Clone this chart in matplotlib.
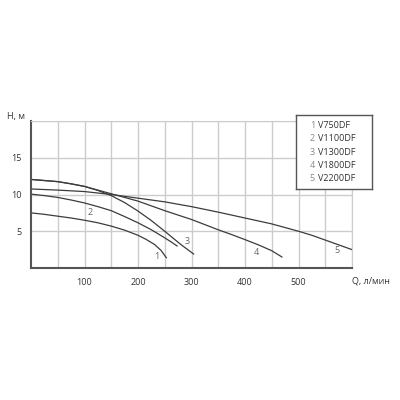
import matplotlib.pyplot as plt

plt.rcParams['font.family'] = ['Open Sans', 'DejaVu Sans']

# расход Q, л/мин и напор H, м для каждой модели
q1 = [0, 25, 50, 75, 100, 125, 150, 175, 200, 215, 231, 243, 253]
h1 = [7.5, 7.3, 7.05, 6.8, 6.5, 6.15, 5.7, 5.15, 4.45, 3.9, 3.2, 2.4, 1.4]

q2 = [0, 25, 50, 75, 100, 125, 150, 175, 200, 225, 250, 262, 273]
h2 = [10.05, 9.85, 9.6, 9.25, 8.85, 8.35, 7.8, 7.0, 6.15, 5.2, 4.1, 3.55, 3.0]

q3 = [0, 25, 50, 75, 100, 125, 150, 175, 200, 225, 250, 265, 280, 292, 304]
h3 = [12.05, 11.9, 11.75, 11.45, 11.1, 10.55, 9.85, 8.9, 7.75, 6.45, 5.0, 4.1, 3.2, 2.55, 1.9]

q4 = [0, 25, 50, 75, 100, 125, 150, 175, 200, 225, 250, 275, 300, 325, 350,
      375, 400, 425, 450, 469]
h4 = [12.05, 11.9, 11.75, 11.45, 11.1, 10.6, 10.1, 9.6, 9.1, 8.45, 7.8, 7.2, 6.6,
      5.9, 5.2, 4.55, 3.86, 3.15, 2.35, 1.5]

q5 = [0, 50, 100, 150, 200, 250, 300, 350, 400, 450, 500, 525, 550, 575, 600]
h5 = [10.75, 10.6, 10.4, 10.0, 9.5, 9.0, 8.35, 7.6, 6.8, 6.0, 5.0, 4.45, 3.8, 3.15, 2.5]

models = ['V750DF', 'V1100DF', 'V1300DF', 'V1800DF', 'V2200DF']
label_pos = [(236, 1.5), (110, 7.6), (292, 3.6), (422, 2.1), (572, 2.4)]

curves = [(q1, h1), (q2, h2), (q3, h3), (q4, h4), (q5, h5)]

txt = '#333333'
grid_c = '#cccccc'

fig = plt.figure(figsize=(4, 4), dpi=100)
ax = fig.add_axes([0.0775, 0.33, 0.8025, 0.3675])

for (q, h), (lx, ly), n in zip(curves, label_pos, range(1, 6)):
    ax.plot(q, h, color='#3c3c3c', lw=0.9, solid_joinstyle='round')
    ax.text(lx, ly, str(n), color='#666666', fontsize=6.5, ha='center', va='center')

ax.set_xlim(0, 600)
ax.set_ylim(0, 20)
ax.set_xticks(range(50, 601, 50))
ax.set_xticklabels(['', '100', '', '200', '', '300', '', '400', '', '500', '', ''])
ax.set_yticks([5, 10, 15, 20])
ax.set_yticklabels(['5', '10', '15', ''])
ax.grid(True, color=grid_c, lw=1.0)
ax.set_axisbelow(True)
ax.tick_params(length=0, labelsize=6.5, colors=txt, pad=7)

for s in ['top', 'right']:
    ax.spines[s].set_color(grid_c)
for s in ['left', 'bottom']:
    ax.spines[s].set_color('#555555')
    ax.spines[s].set_linewidth(1.5)

fig.text(0.0175, 0.7075, 'H, м', fontsize=6.5, color=txt, va='center')
fig.text(0.88, 0.297, 'Q, л/мин', fontsize=6.5, color=txt, va='center')

# легенда в рамке
leg = fig.add_axes([0.74, 0.5275, 0.19, 0.185])
leg.set_xticks([])
leg.set_yticks([])
for s in leg.spines.values():
    s.set_color('#555555')
    s.set_linewidth(1.0)
for i, m in enumerate(models):
    y = 0.86 - i * 0.18
    leg.text(0.18, y, str(i + 1), color='#888888', fontsize=6.5, va='center', transform=leg.transAxes)
    leg.text(0.29, y, m, color=txt, fontsize=6.5, va='center', transform=leg.transAxes)

fig.savefig('out.png', dpi=100)
